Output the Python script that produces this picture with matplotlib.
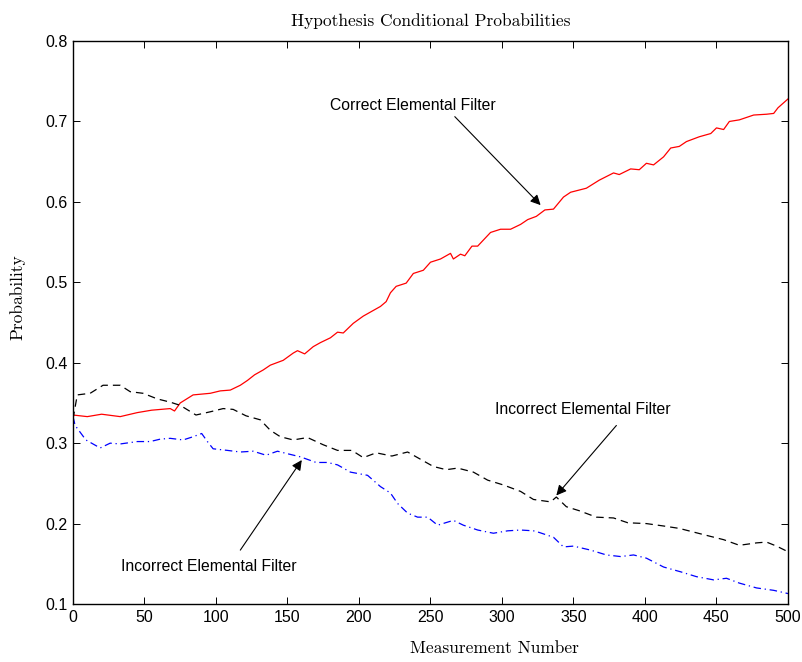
import numpy as np
import matplotlib
matplotlib.use("Agg")
import matplotlib.pyplot as plt

# values
x_correct = [0, 10, 20, 33, 45, 55, 68, 71, 75, 84, 96, 103, 110, 117, 122, 127, 133, 138, 147, 154,
             157, 162, 168, 173, 180, 185, 189, 196, 203, 210, 215, 219, 222, 226, 233, 238, 245, 250, 257, 264,
             266, 271, 274, 279, 283, 292, 299, 306, 313, 318, 324, 330, 336, 343, 348, 359, 368, 378, 382, 390,
             396, 401, 406, 413, 418, 424, 429, 432, 438, 446, 450, 455, 459, 466, 476, 485, 490, 493, 500]
p_correct = [0.335, 0.333, 0.336, 0.333, 0.338, 0.341, 0.343, 0.340, 0.350, 0.360,
             0.362, 0.365, 0.366, 0.372, 0.378, 0.385, 0.391, 0.397, 0.403, 0.412,
             0.415, 0.411, 0.420, 0.425, 0.431, 0.438, 0.437, 0.449, 0.458, 0.465,
             0.470, 0.476, 0.487, 0.495, 0.499, 0.511, 0.515, 0.525, 0.529, 0.536,
             0.529, 0.535, 0.533, 0.545, 0.545, 0.562, 0.566, 0.566, 0.572, 0.578,
             0.582, 0.590, 0.591, 0.606, 0.612, 0.617, 0.627, 0.636, 0.634, 0.641,
             0.640, 0.648, 0.646, 0.656, 0.667, 0.669, 0.675, 0.677, 0.681, 0.685,
             0.692, 0.690, 0.700, 0.702, 0.708, 0.709, 0.710, 0.717, 0.728]

x_wrong1 = [0, 3, 12, 21, 33, 40, 49, 59, 68, 75, 86, 96, 105, 112, 121, 131, 138, 145, 154, 164,
            175, 185, 195, 203, 212, 223, 234, 243, 252, 261, 269, 280, 290, 301, 313, 322, 334, 338, 345, 354,
            366, 378, 388, 401, 413, 424, 435, 446, 455, 466, 478, 485, 492, 500]
p_wrong1 = [0.33, 0.360, 0.362, 0.372, 0.372, 0.364, 0.362, 0.355, 0.351, 0.347,
            0.335, 0.339, 0.343, 0.342, 0.334, 0.329, 0.316, 0.308, 0.304, 0.307,
            0.298, 0.291, 0.291, 0.282, 0.288, 0.284, 0.289, 0.280, 0.271, 0.267,
            0.269, 0.264, 0.254, 0.248, 0.240, 0.230, 0.227, 0.233, 0.221, 0.216,
            0.208, 0.207, 0.201, 0.200, 0.197, 0.194, 0.189, 0.184, 0.180, 0.173,
            0.176, 0.177, 0.172, 0.165]

x_wrong2 = [0, 1.5, 9, 19, 26, 33, 45, 54, 61, 68, 77, 84, 90, 94, 98, 108, 117, 126, 135, 143,
            152, 159, 170, 178, 185, 194, 206, 215, 222, 227, 234, 241, 248, 255, 266, 273, 283, 294, 304, 313,
            322, 326, 336, 343, 350, 362, 373, 383, 392, 401, 413, 425, 436, 448, 457, 466, 478, 490, 500]
p_wrong2 = [0.333, 0.322, 0.304, 0.294, 0.300, 0.299, 0.302, 0.302, 0.305, 0.306,
            0.304, 0.308, 0.312, 0.302, 0.293, 0.291, 0.289, 0.290, 0.285, 0.290,
            0.286, 0.283, 0.276, 0.276, 0.273, 0.264, 0.260, 0.246, 0.238, 0.225,
            0.213, 0.208, 0.208, 0.198, 0.204, 0.198, 0.192, 0.188, 0.191, 0.192,
            0.191, 0.189, 0.183, 0.171, 0.172, 0.167, 0.161, 0.159, 0.161, 0.157,
            0.146, 0.140, 0.134, 0.130, 0.132, 0.126, 0.120, 0.117, 0.113]

x_ticks = [0, 50, 100, 150, 200, 250, 300, 350, 400, 450, 500]
y_ticks = [0.1, 0.2, 0.3, 0.4, 0.5, 0.6, 0.7, 0.8]

serif = ['cmr10', 'DejaVu Serif']
sans = ['Liberation Sans', 'DejaVu Sans']

fig = plt.figure(figsize=(8.03, 6.62), dpi=100)
ax = fig.add_axes([0.0909, 0.0876, 0.8904, 0.8504])

ax.plot(x_correct, p_correct, color='red', linewidth=0.9)
ax.plot(x_wrong1, p_wrong1, color='black', linewidth=0.9, linestyle=(0, (6, 4)))
ax.plot(x_wrong2, p_wrong2, color='blue', linewidth=0.9, linestyle=(0, (6, 3, 1, 3)))

ax.set_xlim(0, 500)
ax.set_ylim(0.1, 0.8)
ax.set_xticks(x_ticks)
ax.set_yticks(y_ticks)
ax.set_xticklabels([str(t) for t in x_ticks], family=sans, fontsize=11.5)
ax.set_yticklabels([f"{t:g}" for t in y_ticks], family=sans, fontsize=11.5)
ax.tick_params(direction='in', length=5, width=0.7, top=True, right=True, pad=4)
for s in ax.spines.values():
    s.set_linewidth(1.0)

ax.set_title("Hypothesis Conditional Probabilities", family=serif, fontsize=12.5, pad=11)
ax.set_xlabel("Measurement Number", family=serif, fontsize=12.5)
ax.xaxis.set_label_coords(0.589, -0.066)
ax.set_ylabel("Probability", family=serif, fontsize=12.5)
ax.yaxis.set_label_coords(-0.066, 0.545)

arrow = dict(arrowstyle='-|>', color='black', linewidth=0.8, mutation_scale=15, shrinkA=0, shrinkB=0)
ax.text(180, 0.720, "Correct Elemental Filter", family=sans, fontsize=11.3, va='center', ha='left')
ax.annotate("", xy=(327, 0.596), xytext=(267, 0.706), arrowprops=arrow)
ax.text(295, 0.342, "Incorrect Elemental Filter", family=sans, fontsize=11.3, va='center', ha='left')
ax.annotate("", xy=(338, 0.235), xytext=(380, 0.322), arrowprops=arrow)
ax.text(33.5, 0.147, "Incorrect Elemental Filter", family=sans, fontsize=11.3, va='center', ha='left')
ax.annotate("", xy=(160, 0.279), xytext=(117, 0.167), arrowprops=arrow)

fig.savefig("out.png", dpi=100)
